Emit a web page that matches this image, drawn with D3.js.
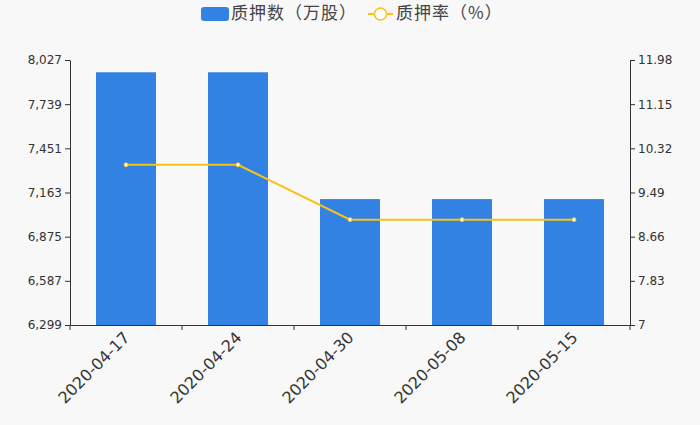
<!DOCTYPE html>
<html><head><meta charset="utf-8">
<script src="https://cdn.jsdelivr.net/npm/d3@7"></script>
<style>body{margin:0;background:#f8f8f8;}svg{display:block;font-family:"DejaVu Sans",sans-serif;}</style>
</head><body><svg width="700" height="425"></svg>
<script>
const categories = ["2020-04-17","2020-04-24","2020-04-30","2020-05-08","2020-05-15"];
const pledgeShares = [7947, 7947, 7120, 7120, 7120];
const pledgeRatio = [10.01, 10.01, 8.98, 8.98, 8.98];
const leftTicks = [6299, 6587, 6875, 7163, 7451, 7739, 8027];
const rightTicks = [7, 7.83, 8.66, 9.49, 10.32, 11.15, 11.98];
const seriesNames = ["质押数（万股）", "质押率（%）"];

const svg = d3.select("svg");
const L = 70, R = 630, T = 60, B = 325;
const x = d3.scaleBand().domain(categories).range([L, R]);
const yL = d3.scaleLinear().domain([6299, 8027]).range([B, T]);
const yR = d3.scaleLinear().domain([7, 11.98]).range([B, T]);
const blue = "#3282e3", yellow = "#f9c316", axisCol = "#333";

// bars
svg.append("g").selectAll("rect").data(pledgeShares).join("rect")
  .attr("x", (d,i) => x(categories[i]) + (x.bandwidth()-60)/2)
  .attr("width", 60)
  .attr("y", d => yL(d))
  .attr("height", d => B - yL(d))
  .attr("fill", blue);

// line
const line = d3.line().x((d,i) => x(categories[i]) + x.bandwidth()/2).y(d => yR(d));
svg.append("path").datum(pledgeRatio).attr("d", line)
  .attr("fill", "none").attr("stroke", yellow).attr("stroke-width", 2);
svg.append("g").selectAll("circle").data(pledgeRatio).join("circle")
  .attr("cx", (d,i) => x(categories[i]) + x.bandwidth()/2)
  .attr("cy", d => yR(d)).attr("r", 2)
  .attr("fill", "#fff").attr("stroke", yellow).attr("stroke-width", 1);

// axes
const fmt = d3.format(",");
const gL = svg.append("g").attr("transform", `translate(${L},0)`)
  .call(d3.axisLeft(yL).tickValues(leftTicks).tickFormat(fmt).tickSize(5).tickSizeOuter(0));
const gR = svg.append("g").attr("transform", `translate(${R},0)`)
  .call(d3.axisRight(yR).tickValues(rightTicks).tickFormat(d => String(d)).tickSize(5).tickSizeOuter(0));
const gX = svg.append("g").attr("transform", `translate(0,${B})`)
  .call(d3.axisBottom(x).tickSize(0).tickSizeOuter(0));
[gL, gR, gX].forEach(g => {
  g.select(".domain").attr("stroke", axisCol);
  g.selectAll(".tick line").attr("stroke", axisCol);
  g.selectAll("text").attr("fill", axisCol).attr("font-size", 12).attr("font-family", "DejaVu Sans, sans-serif");
});
gL.selectAll("text").attr("x", -8);
gR.selectAll("text").attr("x", 8);
// x ticks at band boundaries
const bounds = categories.map(c => x(c)).concat([R]);
svg.append("g").selectAll("line").data(bounds).join("line")
  .attr("x1", d => d).attr("x2", d => d).attr("y1", B).attr("y2", B+5)
  .attr("stroke", axisCol);
gX.selectAll(".tick text")
  .attr("font-size", 16)
  .attr("text-anchor", "end")
  .attr("transform", "translate(-1,8) rotate(-45)")
  .attr("dy", "0.5em").attr("y", 0);

// legend
const lg = svg.append("g");
lg.append("rect").attr("x", 201).attr("y", 7).attr("width", 28).attr("height", 14).attr("rx", 3).attr("fill", blue);
lg.append("text").attr("x", 231).attr("y", 19).text(seriesNames[0])
  .attr("font-size", 17).attr("letter-spacing", 1).attr("fill", "#444").attr("font-family", "Noto Sans CJK SC, sans-serif");
lg.append("line").attr("x1", 368).attr("x2", 393).attr("y1", 14).attr("y2", 14).attr("stroke", yellow).attr("stroke-width", 2);
lg.append("circle").attr("cx", 380.5).attr("cy", 14).attr("r", 6).attr("fill", "#fff").attr("stroke", yellow).attr("stroke-width", 1.5);
lg.append("text").attr("x", 396).attr("y", 19).text(seriesNames[1])
  .attr("font-size", 17).attr("letter-spacing", 1).attr("fill", "#444").attr("font-family", "Noto Sans CJK SC, sans-serif");
</script></body></html>
